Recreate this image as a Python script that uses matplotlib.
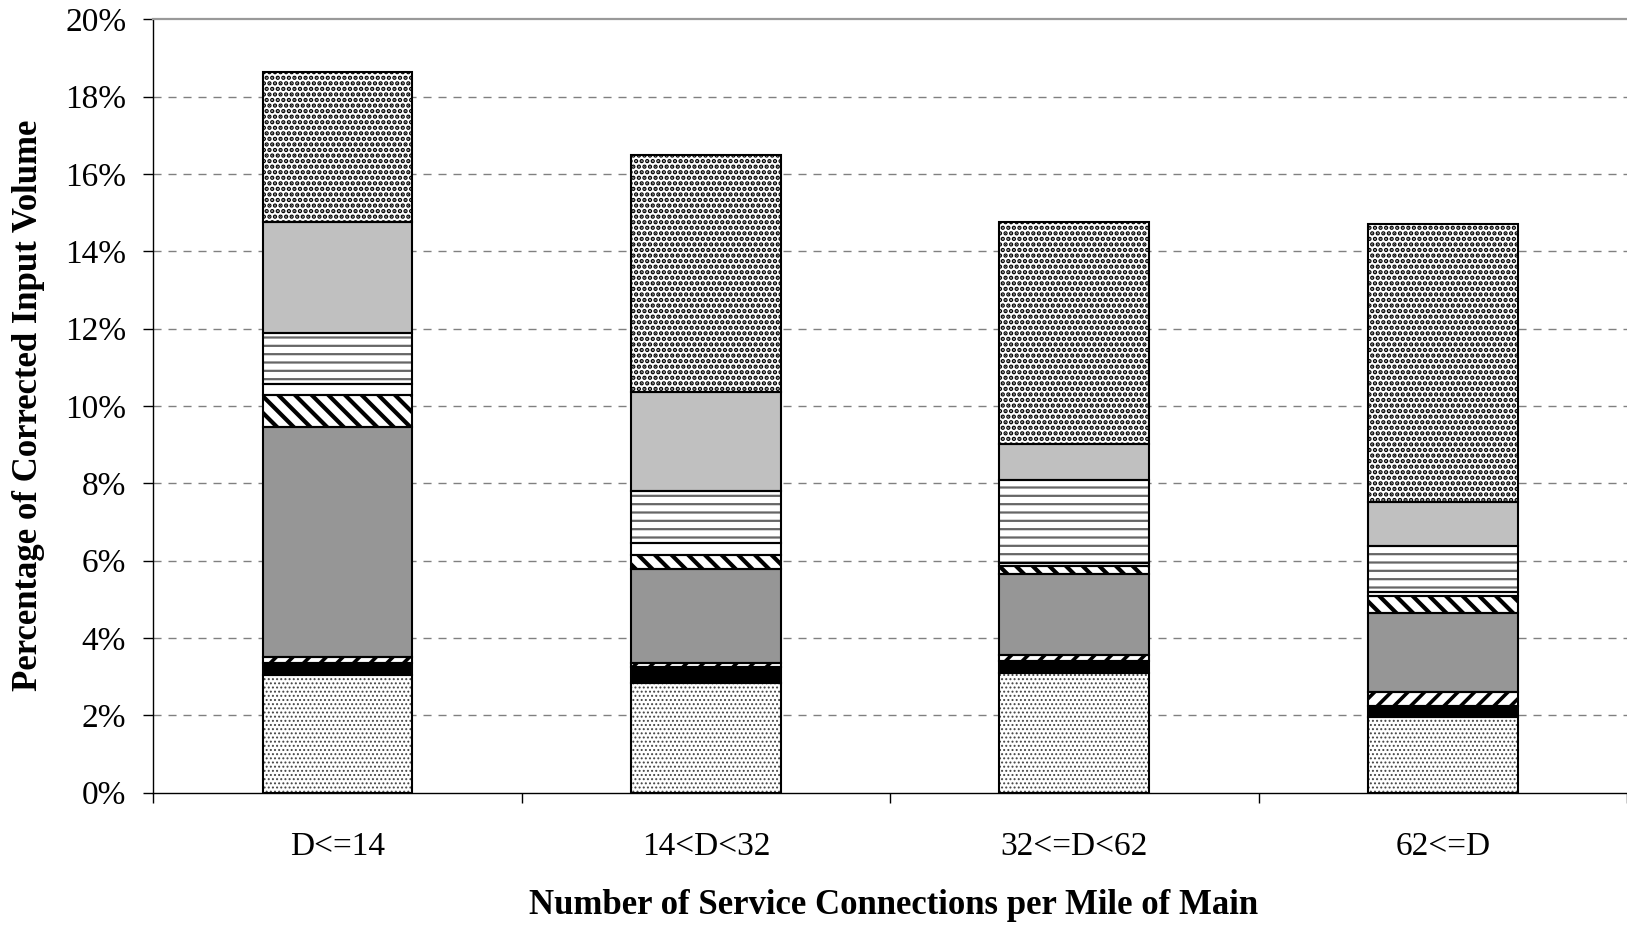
import matplotlib
matplotlib.use("Agg")
import matplotlib.pyplot as plt
from matplotlib.ticker import FixedLocator, PercentFormatter
import numpy as np

categories = ["D<=14", "14<D<32", "32<=D<62", "62<=D"]
# stacked segments, bottom to top (percent of corrected input volume)
seg_fine_dots   = [3.05, 2.83, 3.09, 1.95]
seg_black       = [0.30, 0.41, 0.32, 0.29]
seg_fwd_stripe  = [0.17, 0.12, 0.15, 0.37]
seg_dark_gray   = [5.93, 2.43, 2.10, 2.03]
seg_back_stripe = [0.84, 0.36, 0.19, 0.45]
seg_white       = [0.28, 0.32, 0.09, 0.11]
seg_dashed      = [1.33, 1.34, 2.15, 1.17]
seg_light_gray  = [2.85, 2.54, 0.92, 1.15]
seg_coarse_dots = [3.90, 6.15, 5.76, 7.19]
y_ticks = [0, 2, 4, 6, 8, 10, 12, 14, 16, 18, 20]

series = [seg_fine_dots, seg_black, seg_fwd_stripe, seg_dark_gray, seg_back_stripe,
          seg_white, seg_dashed, seg_light_gray, seg_coarse_dots]
# (facecolor, hatch, hatch color, hatch linewidth)
styles = [
    ("white", "....", "#444444", 0.9),
    ("black", None, None, 0),
    ("white", "//", "black", 2.6),
    ("#969696", None, None, 0),
    ("white", "\\\\", "black", 3.0),
    ("white", None, None, 0),
    ("white", "--", "#666666", 1.6),
    ("#c0c0c0", None, None, 0),
    ("white", "...", "black", 2.2),
]

plt.rcParams['font.family'] = ['Liberation Serif', 'DejaVu Serif']

fig = plt.figure(figsize=(16.27, 9.25), dpi=100)
ax = fig.add_axes([153.3 / 1627, 1 - 792.7 / 925, 1 - 153.3 / 1627, (792.7 - 19.3) / 925])

x = np.arange(len(categories))
width = 0.407
bottom = np.zeros(len(categories))
for vals, (fc, hatch, hc, hlw) in zip(series, styles):
    vals = np.array(vals)
    if hatch:
        with plt.rc_context({'hatch.linewidth': hlw}):
            bars = ax.bar(x, vals, width, bottom=bottom, facecolor=fc, hatch=hatch,
                          edgecolor=hc, linewidth=0, zorder=3)
            for b in bars:
                if hasattr(b, "set_hatch_linewidth"):
                    b.set_hatch_linewidth(hlw)
    else:
        ax.bar(x, vals, width, bottom=bottom, facecolor=fc, linewidth=0, zorder=3)
    ax.bar(x, vals, width, bottom=bottom, fill=False, edgecolor='black',
           linewidth=1.5, zorder=4)
    bottom += vals

ax.set_xlim(-0.5, 3.5)
ax.set_ylim(0, 20)
ax.yaxis.set_major_locator(FixedLocator(y_ticks))
ax.yaxis.set_major_formatter(PercentFormatter(decimals=0))
ax.tick_params(axis='y', direction='out', length=7.5, width=1.0, labelsize=24, pad=12)

ax.xaxis.set_major_locator(FixedLocator([-0.5, 0.5, 1.5, 2.5, 3.5]))
ax.xaxis.set_major_formatter(plt.NullFormatter())
ax.xaxis.set_minor_locator(FixedLocator(x))
ax.set_xticks(x, categories, minor=True)
ax.tick_params(axis='x', which='major', direction='out', length=7.5, width=1.0)
ax.tick_params(axis='x', which='minor', length=0, labelsize=24, pad=28)

ax.set_axisbelow(True)
for yv in y_ticks[1:-1]:
    ax.axhline(yv, color='#808080', linewidth=1.0, linestyle=(0, (5.8, 5.0)), zorder=1)

ax.spines['right'].set_visible(False)
ax.spines['top'].set_color('#999999')
ax.spines['top'].set_linewidth(1.6)
ax.spines['left'].set_linewidth(1.0)
ax.spines['bottom'].set_linewidth(1.0)

fig.text(29 / 1627, 1 - 405.7 / 925, "Percentage of Corrected Input Volume",
         rotation=90, ha='center', va='center', fontsize=25, fontweight='bold')
fig.text(894 / 1627, 1 - 905 / 925, "Number of Service Connections per Mile of Main",
         ha='center', va='center', fontsize=25, fontweight='bold')

fig.savefig("out.png", dpi=100)
